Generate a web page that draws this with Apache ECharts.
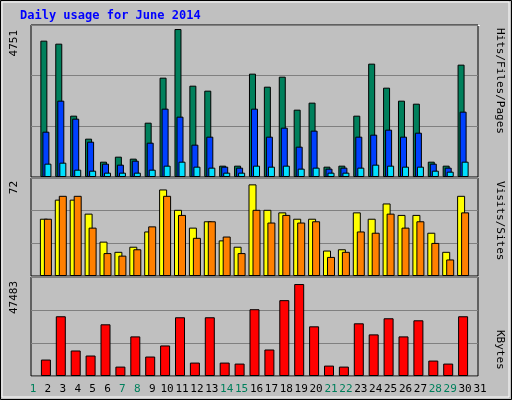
<!DOCTYPE html>
<html><head><meta charset="utf-8">
<script src="https://cdn.jsdelivr.net/npm/echarts@6/dist/echarts.min.js"></script>
<style>html,body{margin:0;padding:0;background:#c0c0c0}#c{width:512px;height:400px}</style>
</head><body><div id="c"></div>
<script>
const days = Array.from({length:31},(_,i)=>String(i+1));
const weekend = ['1','7','8','14','15','21','22','28','29'];
const hits  = [null,4377,4281,1969,1231,492,653,589,1744,3189,4751,2932,2772,364,364,3318,2900,3221,2162,2387,332,364,1969,3639,2868,2451,2354,492,364,3607,null];
const files = [null,1455,2451,1873,1134,428,396,524,1102,2194,1937,1038,1295,332,300,2194,1295,1584,974,1488,268,300,1295,1359,1520,1295,1423,428,300,2098,null];
const pages = [null,428,460,235,203,139,139,139,235,364,492,332,300,139,139,364,332,364,268,300,139,139,300,396,364,332,332,203,171,492,null];
const visits= [null,45,60,60,49,27,19,23,35,68,52,38,43,28,23,72,52,50,45,45,20,21,50,45,57,48,48,34,19,63,null];
const sites = [null,45,63,63,38,18,16,21,39,63,48,30,43,31,18,52,42,48,42,43,15,19,35,34,49,38,43,26,13,50,null];
const kbytes= [null,8490,30850,13170,10570,26690,4850,20450,10050,15770,30330,6930,30330,6930,6410,34490,13690,39170,47483,25650,5370,4850,27210,21490,29810,20450,28770,7970,6410,30850,null];
const maxLabels = ['4751','72','47483'];

const ch = echarts.init(document.getElementById('c'));
const mono = 'DejaVu Sans Mono';
const grids = [
  {left:31,right:34,top:25,height:152},
  {left:31,right:34,top:178,height:98},
  {left:31,right:34,top:277,height:99}
];
const maxes=[4880,77,51120];
const xAxis = grids.map((g,i)=>({gridIndex:i,type:'category',data:days,boundaryGap:false,
  axisLine:{show:false},axisTick:{show:false},
  axisLabel:{show:i===2,interval:0,margin:8,fontFamily:mono,fontSize:11,padding:[0,0,0,4],
    color:(v)=>weekend.includes(v)?'#00805c':'#000'}}));
const yAxis = grids.map((g,i)=>({gridIndex:i,type:'value',min:0,max:maxes[i],interval:maxes[i]/3,
  axisLabel:{show:false},axisLine:{show:false},axisTick:{show:false},
  splitLine:{lineStyle:{color:'#808080',width:1}}}));
const bs = {type:'bar',itemStyle:{borderColor:'#000',borderWidth:1},animation:false};
const series = [
  {...bs,xAxisIndex:0,yAxisIndex:0,data:hits,barWidth:7,barGap:'-71%',itemStyle:{...bs.itemStyle,color:'#00805c'}},
  {...bs,xAxisIndex:0,yAxisIndex:0,data:files,barWidth:7,barGap:'-71%',itemStyle:{...bs.itemStyle,color:'#0040ff'}},
  {...bs,xAxisIndex:0,yAxisIndex:0,data:pages,barWidth:7,barGap:'-71%',itemStyle:{...bs.itemStyle,color:'#00e0ff'}},
  {...bs,xAxisIndex:1,yAxisIndex:1,data:visits,barWidth:8,barGap:'-50%',itemStyle:{...bs.itemStyle,color:'#ffff00'}},
  {...bs,xAxisIndex:1,yAxisIndex:1,data:sites,barWidth:8,barGap:'-50%',itemStyle:{...bs.itemStyle,color:'#ff8000'}},
  {...bs,xAxisIndex:2,yAxisIndex:2,data:kbytes,barWidth:10,itemStyle:{...bs.itemStyle,color:'#ff0000'}}
];
const lab=(x,y,t)=>({type:'text',x:x,y:y,rotation:Math.PI/2,style:{text:t,fontFamily:mono,fontSize:11,fill:'#000',align:'right',verticalAlign:'middle'}});
const rlab=(y,rich,text)=>({type:'text',x:500,y:y,rotation:-Math.PI/2,style:{text:text,rich:rich,fontFamily:mono,fontSize:11,align:'left',verticalAlign:'middle'}});
const rs={fontFamily:mono,fontSize:11};
ch.setOption({
  backgroundColor:'#c0c0c0',
  grid:grids.map(g=>({...g,show:true,borderColor:'#000',borderWidth:1,backgroundColor:'transparent'})),
  xAxis:xAxis,yAxis:yAxis,series:series,
  graphic:[
    {type:'rect',shape:{x:0.5,y:0.5,width:511,height:399},style:{fill:'none',stroke:'#000',lineWidth:1}},
    {type:'rect',shape:{x:2,y:2,width:507,height:395},style:{fill:'none',stroke:'#fff',lineWidth:1}},
    {type:'rect',shape:{x:31,y:25,width:449,height:1},style:{fill:'#fff'}},
    {type:'text',x:20,y:16,style:{text:'Daily usage for June 2014',fontFamily:mono,fontWeight:'bold',fontSize:12,fill:'#0000ff',verticalAlign:'middle'}},
    lab(14,30,maxLabels[0]),lab(14,181,maxLabels[1]),lab(14,281,maxLabels[2]),
    rlab(28,{h:{...rs,color:'#00805c'},f:{...rs,color:'#0040ff'},p:{...rs,color:'#00e0ff'},s:{...rs,color:'#000'}},'{h|Hits}{s|/}{f|Files}{s|/}{p|Pages}'),
    rlab(181,{v:{...rs,color:'#ffff00'},t:{...rs,color:'#ff8000'},s:{...rs,color:'#000'}},'{v|Visits}{s|/}{t|Sites}'),
    rlab(330,{k:{...rs,color:'#ff0000'}},'{k|KBytes}')
  ]
});
</script></body></html>
